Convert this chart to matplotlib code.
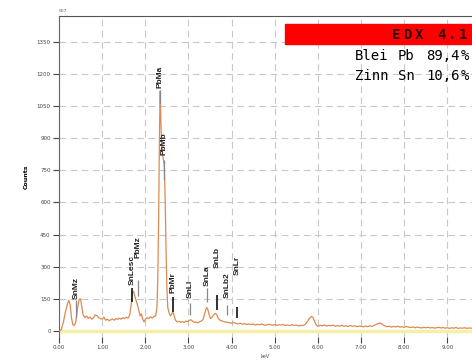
import matplotlib
matplotlib.use("Agg")
import matplotlib.pyplot as plt
import numpy as np

# spectrum (keV, counts)
energy = [0.00, 0.05, 0.10, 0.15, 0.20, 0.23, 0.26, 0.29, 0.32, 0.35, 0.38, 0.41, 0.44, 0.47, 0.50,
          0.53, 0.56, 0.60, 0.64, 0.68, 0.72, 0.76, 0.80, 0.84, 0.88, 0.92, 0.96, 1.00, 1.04, 1.08,
          1.12, 1.16, 1.20, 1.24, 1.28, 1.32, 1.36, 1.40, 1.44, 1.48, 1.52, 1.56, 1.60, 1.64, 1.67,
          1.70, 1.73, 1.76, 1.79, 1.82, 1.85, 1.88, 1.91, 1.94, 1.97, 2.00, 2.04, 2.08, 2.12, 2.16,
          2.20, 2.24, 2.27, 2.29, 2.31, 2.33, 2.345, 2.36, 2.38, 2.40, 2.42, 2.44, 2.46, 2.48, 2.50,
          2.52, 2.55, 2.58, 2.61, 2.64, 2.67, 2.70, 2.74, 2.78, 2.82, 2.86, 2.90, 2.94, 2.98, 3.02,
          3.06, 3.10, 3.14, 3.18, 3.22, 3.26, 3.30, 3.34, 3.38, 3.42, 3.45, 3.48, 3.51, 3.54, 3.58,
          3.62, 3.65, 3.68, 3.72, 3.76, 3.80, 3.85, 3.90, 3.95, 4.00, 4.05, 4.10, 4.15, 4.20, 4.25,
          4.30, 4.35, 4.40, 4.45, 4.50, 4.55, 4.60, 4.65, 4.70, 4.75, 4.80, 4.85, 4.90, 4.95, 5.00,
          5.05, 5.10, 5.15, 5.20, 5.25, 5.30, 5.35, 5.40, 5.45, 5.50, 5.55, 5.60, 5.65, 5.70, 5.75,
          5.80, 5.85, 5.89, 5.93, 5.97, 6.01, 6.05, 6.10, 6.15, 6.20, 6.25, 6.30, 6.35, 6.40, 6.45,
          6.50, 6.55, 6.60, 6.65, 6.70, 6.75, 6.80, 6.85, 6.90, 6.95, 7.00, 7.05, 7.10, 7.15, 7.20,
          7.25, 7.30, 7.35, 7.40, 7.45, 7.50, 7.55, 7.60, 7.65, 7.70, 7.75, 7.80, 7.85, 7.90, 7.95,
          8.00, 8.05, 8.10, 8.15, 8.20, 8.25, 8.30, 8.35, 8.40, 8.45, 8.50, 8.55, 8.60, 8.65, 8.70,
          8.75, 8.80, 8.85, 8.90, 8.95, 9.00, 9.05, 9.10, 9.15, 9.20, 9.25, 9.30, 9.35, 9.40, 9.45,
          9.50, 9.55, 9.60]
counts = [0, 5, 40, 90, 130, 143, 120, 60, 30, 25, 35, 70, 120, 148, 150,
          110, 75, 62, 70, 58, 65, 55, 62, 75, 72, 62, 58, 55, 65, 50,
          55, 48, 52, 56, 50, 58, 54, 60, 55, 62, 58, 64, 60, 75, 120,
          175, 185, 160, 140, 120, 95, 70, 80, 55, 42, 55, 62, 58, 66, 60,
          68, 70, 110, 250, 550, 950, 1120, 980, 870, 820, 800, 770, 620, 380, 200,
          110, 85, 70, 78, 90, 70, 50, 42, 45, 40, 44, 40, 46, 44, 50,
          52, 45, 40, 42, 38, 44, 46, 55, 85, 110, 100, 75, 58, 62, 75,
          82, 78, 62, 52, 48, 45, 42, 40, 38, 36, 40, 35, 33, 36, 32,
          34, 30, 33, 30, 32, 28, 31, 29, 33, 28, 27, 31, 29, 27, 30,
          26, 29, 27, 30, 26, 28, 25, 29, 26, 27, 24, 26, 25, 30, 42,
          58, 68, 62, 40, 25, 22, 27, 24, 28, 23, 26, 24, 27, 22, 25,
          23, 26, 22, 24, 21, 25, 22, 24, 20, 23, 22, 19, 23, 20, 24,
          21, 26, 30, 35, 37, 30, 24, 20, 22, 18, 21, 19, 22, 18, 20,
          17, 21, 18, 16, 19, 15, 18, 16, 14, 17, 15, 17, 14, 16, 13,
          15, 17, 14, 16, 13, 15, 12, 15, 13, 16, 12, 14, 13, 15, 12,
          14, 13, 12]

# line markers: name, energy, marker low/high, label base (counts)
line_names = ["SnMz", "SnLesc", "PbMz", "PbMa", "PbMb", "PbMr", "SnLl", "SnLa", "SnLb", "SnLb2", "SnLr"]
line_kev = [0.40, 1.69, 1.82, 2.35, 2.44, 2.65, 3.04, 3.44, 3.66, 3.90, 4.13]
mark_lo = [60, 134, 165, 1064, 705, 87, 73, 134, 97, 73, 59]
mark_hi = [143, 200, 238, 1125, 798, 157, 129, 200, 167, 120, 110]
label_y = [150, 214, 340, 1134, 821, 176, 152, 210, 293, 153, 260]
mark_dark = [False, True, False, False, False, True, False, False, True, False, True]

elements = ["Blei", "Zinn"]
symbols = ["Pb", "Sn"]
percent = ["89,4", "10,6"]

fig = plt.figure(figsize=(4.72, 3.6), dpi=100)
ax = fig.add_axes([0.125, 0.064, 0.875, 0.8916])

ax.axhline(0, color="#f4f0a8", lw=2.5, zorder=1)
ax.plot(energy, counts, color="#dc8a52", lw=0.9, zorder=3)

for name, e, lo, hi, ly, dark in zip(line_names, line_kev, mark_lo, mark_hi, label_y, mark_dark):
    ax.vlines(e, lo, hi, color="#222222" if dark else "#888888", lw=1.3 if dark else 0.9, zorder=4)
    ax.text(e, ly, name, rotation=90, ha="center", va="bottom", fontsize=6,
            fontweight="bold", family="Liberation Sans", color="#222222", zorder=5)

ax.set_xlim(0, 9.57)
ax.set_ylim(-28, 1470)
ax.set_xticks(np.arange(0, 10, 1.0))
ax.set_xticklabels(["%.2f" % v for v in np.arange(0, 10, 1.0)])
ax.set_yticks(np.arange(0, 1351, 150))
ax.tick_params(axis="both", labelsize=4, colors="#444444", length=4, width=0.8, pad=2)
ax.grid(True, color="#c8c8c8", lw=0.8, linestyle=(0, (6, 4)))
ax.set_axisbelow(True)
for s in ["right", "bottom"]:
    ax.spines[s].set_visible(False)
ax.spines["left"].set_color("#666666")
ax.spines["top"].set_color("#555555")
ax.set_ylabel("Counts", fontsize=4.5, fontweight="bold", labelpad=6)
ax.set_xlabel("keV", fontsize=3.5, color="#444444", labelpad=3)
fig.text(59 / 472, 1 - 11 / 360, "507", fontsize=3.2, color="#555555", va="center")

# red header box and composition text (figure pixels)
W, H = 472, 360
fig.patches.append(plt.Rectangle((285 / W, 1 - 44 / H), 200 / W, 20 / H, transform=fig.transFigure,
                                 color="#ff0000", zorder=10))
for i, ch in enumerate("EDX 4.1"):
    fig.text((392 + i * 11.2) / W, 1 - 35 / H, ch, fontsize=10, fontweight="bold",
             family="DejaVu Sans Mono", color="#300000", va="center", ha="left", zorder=11)
for row, (el, sym, pc) in enumerate(zip(elements, symbols, percent)):
    yy = 1 - (56 + row * 20) / H
    fig.text(355 / W, yy, el, fontsize=10, family="DejaVu Sans Mono", va="center", zorder=11)
    fig.text(398 / W, yy, sym, fontsize=10, family="DejaVu Sans Mono", va="center", zorder=11)
    fig.text(426 / W, yy, pc, fontsize=10, family="DejaVu Sans Mono", va="center", zorder=11)
    fig.text(461 / W, yy, "%", fontsize=10, family="DejaVu Sans Mono", va="center", zorder=11)

fig.savefig("out.png", dpi=100)
